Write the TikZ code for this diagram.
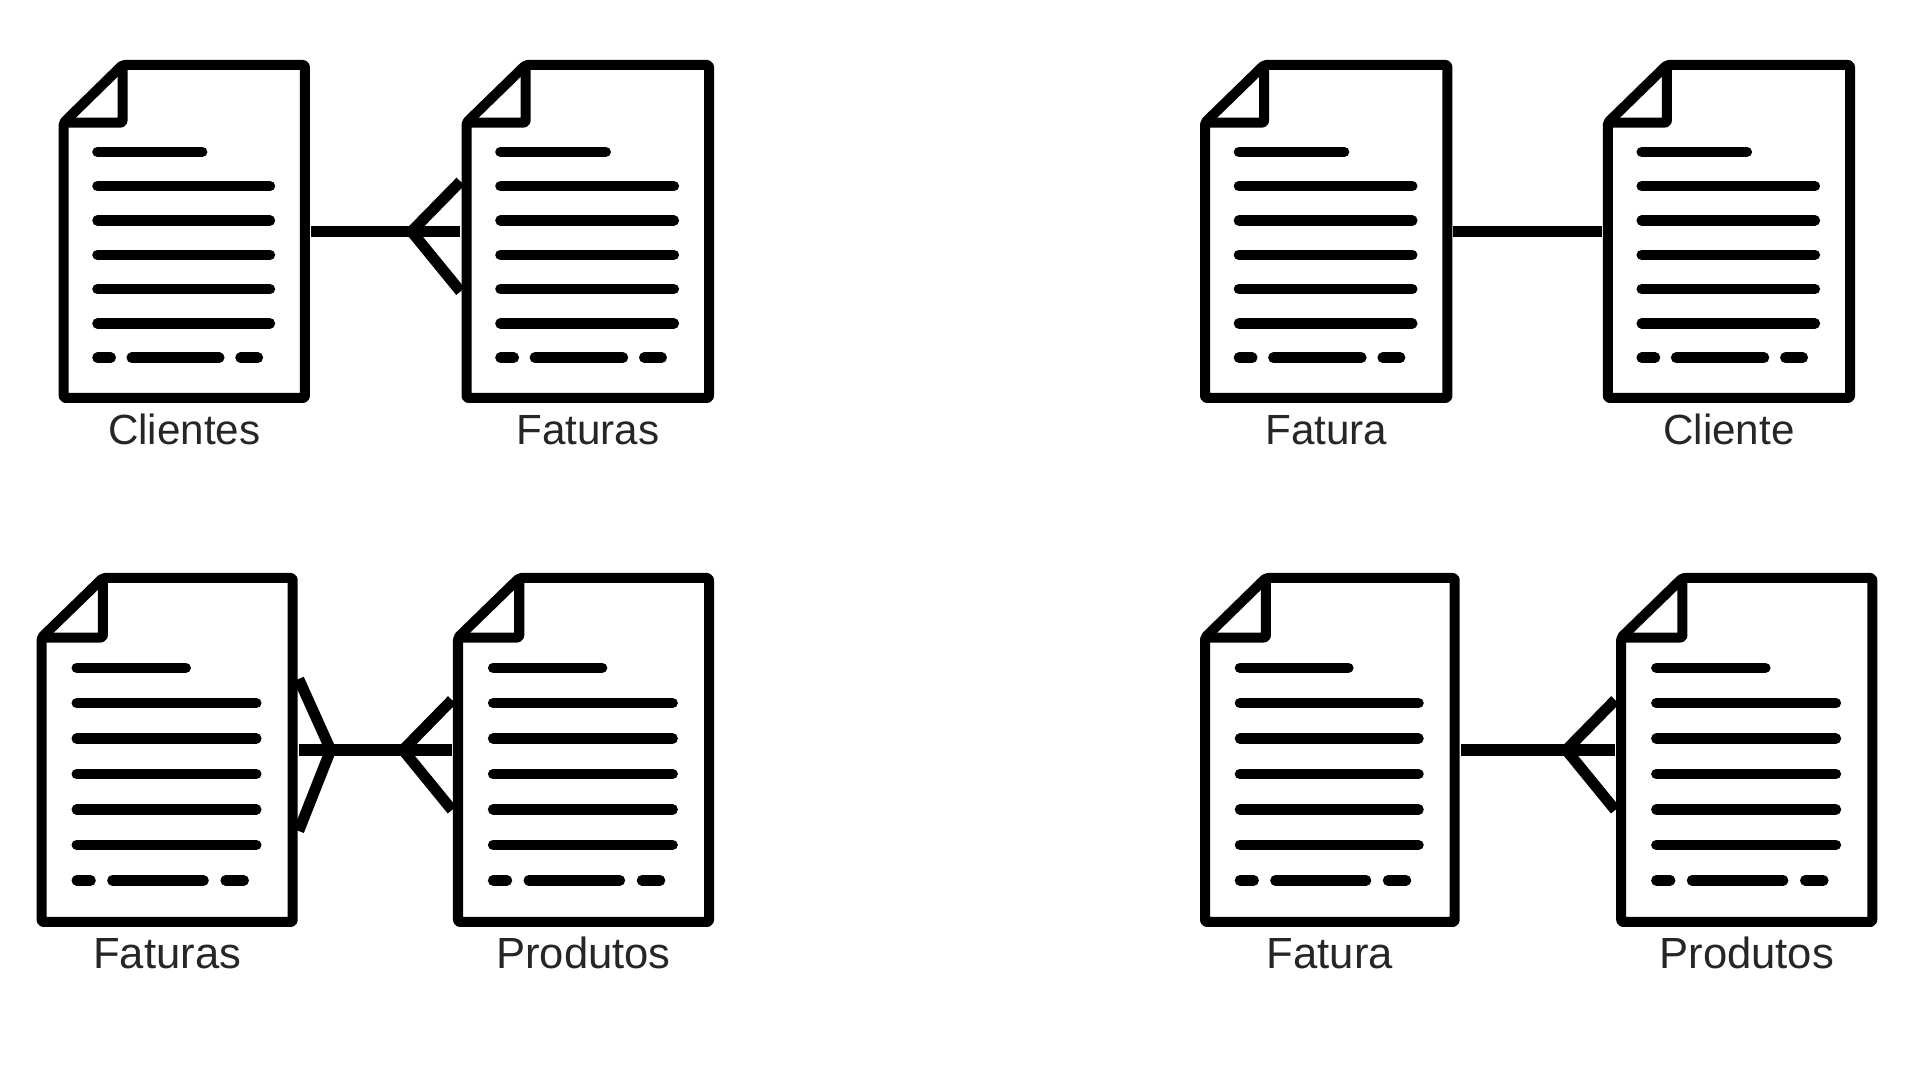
\documentclass[tikz,border=0pt]{standalone}
\usepackage{fontspec}
\usepackage{tikz}
\usetikzlibrary{positioning}
\setmainfont{Liberation Sans}

\def\labelsize{12}

\tikzset{
    docline/.style={line width=0.105cm,line cap=round},
    docoutline/.style={line width=0.1cm,line join=round,rounded corners=0.02cm},
    docbox/.style={rectangle,inner sep=0pt,outer sep=0.06cm},
    doclabel/.style={font=\fontsize{\labelsize}{14}\selectfont,text=black!85,inner sep=0pt,text height=0.31cm,text depth=0pt},
    relline/.style={line width=0.115cm},
    crowfoot/.style={line width=0.11cm,line join=round}
}

% name, left, top, right, bottom, label
\newcommand{\docfile}[6]{
    \node[docbox,minimum width={(#4-#2)*0.01cm},minimum height={(#5-#3)*0.01cm}] (#1) at ({(#2+#4)/2},{(#3+#5)/2}) {};
    \node[doclabel,below=0.09cm of #1] (#1-label) {#6};
    \begin{scope}[shift={(#2,#3)},x={0.01cm*(#4-#2)},y={0.01cm*(#3-#5)}]
        % folha e dobra
        \draw[docoutline] (0.244,0) -- (1,0) -- (1,1) -- (0,1) -- (0,0.173) -- cycle;
        \draw[docoutline] (0.244,0) -- (0.244,0.173) -- (0,0.173);
        % linhas de texto
        \draw[docline] (0.14,0.261) -- (0.574,0.261);
        \foreach \row in {0.364,0.467,0.570,0.673,0.776}{
            \draw[docline] (0.14,\row) -- (0.855,\row);
        }
        % ultima linha, interrompida
        \draw[docline] (0.14,0.879) -- (0.195,0.879);
        \draw[docline] (0.282,0.879) -- (0.645,0.879);
        \draw[docline] (0.733,0.879) -- (0.805,0.879);
    \end{scope}
}

\begin{document}
\begin{tikzpicture}[x=0.01cm,y=-0.01cm]

    \useasboundingbox (0,0) rectangle (1920,1080);

    % linha de cima
    \docfile{clientes}{63.7}{65}{304.9}{398}{Clientes}
    \docfile{faturas}{466.5}{65}{709}{398}{Faturas}
    \docfile{fatura}{1205}{65}{1447.4}{398}{Fatura}
    \docfile{cliente}{1607.8}{65}{1850}{398}{Cliente}

    % linha de baixo
    \def\labelsize{12.4}
    \docfile{faturasB}{41.6}{578}{292.7}{922}{Faturas}
    \docfile{produtos}{458}{578}{709}{922}{Produtos}
    \docfile{faturaB}{1205}{578}{1454.7}{922}{Fatura}
    \docfile{produtosB}{1621.2}{578}{1872.3}{922}{Produtos}

    % relacoes
    \draw[relline] (clientes.east) -- (faturas.west);
    \draw[relline] (fatura.east) -- (cliente.west);
    \draw[relline] (faturasB.east) -- (produtos.west);
    \draw[relline] (faturaB.east) -- (produtosB.west);

    % pes de galinha
    \draw[crowfoot] (faturas.west) ++(0,-50) -- ++(-49,50) -- ++(49,60);
    \draw[crowfoot] (produtos.west) ++(0,-50) -- ++(-49,50) -- ++(49,60);
    \draw[crowfoot] (produtosB.west) ++(0,-50) -- ++(-49,50) -- ++(49,60);
    \draw[crowfoot] (faturasB.east) ++(0,-71) -- ++(32,71) -- ++(-32,81);

\end{tikzpicture}
\end{document}
